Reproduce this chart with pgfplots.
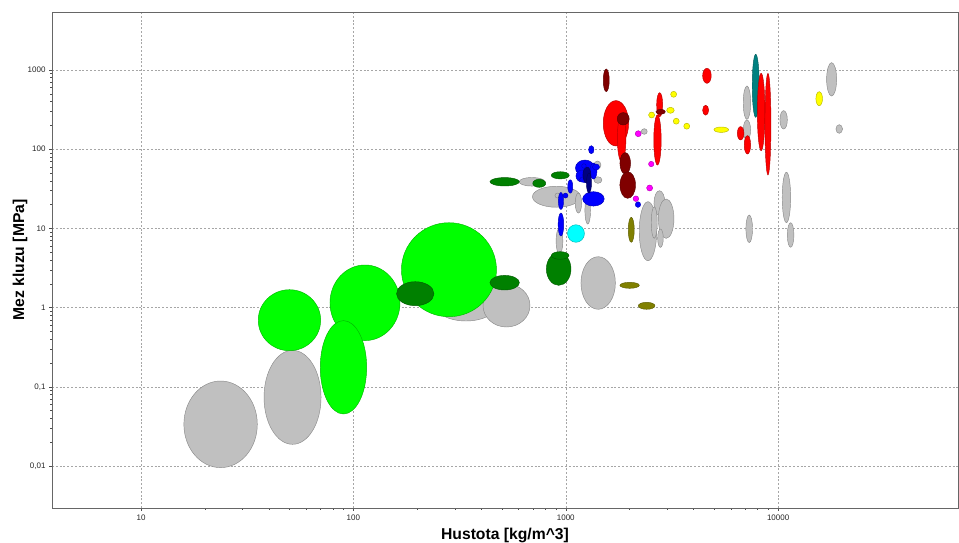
\documentclass[border=0pt]{standalone}
\usepackage{fontspec}
\setmainfont{Liberation Sans}
\usepackage{pgfplots}
\pgfplotsset{compat=1.18}

% material family colours
\definecolor{matgrey}{HTML}{C0C0C0}
\definecolor{matlime}{HTML}{00FF00}
\definecolor{matdkgreen}{HTML}{008000}
\definecolor{matblue}{HTML}{0000FF}
\definecolor{matnavy}{HTML}{000080}
\definecolor{matcyan}{HTML}{00FFFF}
\definecolor{matred}{HTML}{FF0000}
\definecolor{matmaroon}{HTML}{800000}
\definecolor{matmagenta}{HTML}{FF00FF}
\definecolor{matyellow}{HTML}{FFFF00}
\definecolor{matolive}{HTML}{808000}
\definecolor{matteal}{HTML}{008080}

% length of one decade on each axis (axis size / number of decades)
\def\decx{212.4pt}
\def\decy{79.2pt}

% property-range bubble: half-widths \rx, \ry are given in decades
\pgfdeclareplotmark{ashby}{%
  \pgfpathellipse{\pgfpointorigin}{\pgfpoint{\rx*\decx}{0pt}}{\pgfpoint{0pt}{\ry*\decy}}%
  \pgfusepathqfillstroke}

% \bubble{colour}{density}{yield strength}{half-width}{half-height}
\newcommand\bubble[5]{%
  \addplot[only marks, mark=ashby,
    mark options={fill=#1, draw=#1!72!black, line width=0.45pt,
      /utils/exec={\def\rx{#4}\def\ry{#5}}}]
    coordinates {(#2,#3)};}

\begin{document}
\begin{tikzpicture}
\useasboundingbox (-52pt,-35pt) rectangle (907pt,508pt);
\begin{axis}[
  at={(0pt,0pt)}, anchor=south west,
  scale only axis, width=906pt, height=496pt,
  xmode=log, ymode=log,
  xmin=3.81, xmax=70300, ymin=0.00295, ymax=5400,
  xtick={10,100,1000,10000}, xticklabels={10,100,1000,10000},
  ytick={0.01,0.1,1,10,100,1000},
  yticklabels={{0,01},{0,1},1,10,100,1000},
  tick pos=left, tick align=outside,
  major tick length=3pt, minor tick length=1.6pt,
  every tick/.style={black!70},
  grid=major,
  major grid style={gray!70, line width=0.4pt, dash pattern=on 2pt off 1.8pt},
  axis line style={black!60, line width=0.8pt},
  /pgf/number format/assume math mode=true,
  ticklabel style={font=\fontsize{8}{9}\selectfont, text=black!85},
  xlabel={Hustota [kg/m\textasciicircum 3]},
  ylabel={Mez kluzu [MPa]},
  label style={font=\fontsize{15.7}{18}\selectfont\bfseries},
  xlabel style={at={(axis description cs:0.5,-0.0544)}, anchor=center},
  ylabel style={at={(axis description cs:-0.0353,0.5)}, anchor=center, rotate=0},
]
% grey families
\bubble{matgrey}{23.7}{0.0336}{0.1728}{0.5467}
\bubble{matgrey}{51.7}{0.0737}{0.1342}{0.5934}
\bubble{matgrey}{339}{1.177}{0.1554}{0.2400}
\bubble{matgrey}{526}{1.063}{0.1106}{0.2715}
\bubble{matgrey}{693}{38.8}{0.0603}{0.0543}
\bubble{matgrey}{904}{25.1}{0.1130}{0.1326}
\bubble{matgrey}{914}{26.0}{0.0118}{0.0316}
\bubble{matgrey}{1147}{20.9}{0.0151}{0.1263}
\bubble{matgrey}{934}{6.93}{0.0160}{0.1640}
\bubble{matgrey}{1269}{16.9}{0.0132}{0.1730}
\bubble{matgrey}{1410}{63.2}{0.0165}{0.0505}
\bubble{matgrey}{1418}{40.8}{0.0188}{0.0417}
\bubble{matgrey}{1421}{2.045}{0.0810}{0.3320}
\bubble{matgrey}{2342}{167.3}{0.0141}{0.0354}
\bubble{matgrey}{2438}{9.22}{0.0410}{0.3725}
\bubble{matgrey}{2762}{20.8}{0.0259}{0.1580}
\bubble{matgrey}{2970}{13.26}{0.0367}{0.2487}
\bubble{matgrey}{2610}{11.87}{0.0141}{0.1995}
\bubble{matgrey}{2792}{7.52}{0.0132}{0.1160}
\bubble{matgrey}{7131}{386.5}{0.0174}{0.2110}
\bubble{matgrey}{7131}{174.8}{0.0174}{0.1263}
\bubble{matgrey}{10615}{235}{0.0174}{0.1160}
\bubble{matgrey}{10940}{24.6}{0.0198}{0.3180}
\bubble{matgrey}{11450}{8.26}{0.0155}{0.1550}
\bubble{matgrey}{7310}{9.88}{0.0155}{0.1740}
\bubble{matgrey}{17860}{763}{0.0235}{0.2110}
\bubble{matgrey}{19400}{179.9}{0.0155}{0.0543}
% foams
\bubble{matlime}{50.0}{0.6934}{0.1469}{0.3851}
\bubble{matlime}{113.4}{1.150}{0.1648}{0.4773}
\bubble{matlime}{89.8}{0.1763}{0.1092}{0.5896}
\bubble{matlime}{281.9}{3.009}{0.2236}{0.5934}
% natural materials
\bubble{matdkgreen}{195.6}{1.498}{0.0880}{0.1515}
\bubble{matdkgreen}{515.6}{2.063}{0.0692}{0.0922}
\bubble{matdkgreen}{515.6}{38.8}{0.0692}{0.0530}
\bubble{matdkgreen}{750.3}{37.1}{0.0306}{0.0505}
\bubble{matdkgreen}{942.2}{46.8}{0.0424}{0.0455}
\bubble{matdkgreen}{926}{3.07}{0.0579}{0.2058}
\bubble{matdkgreen}{941}{4.55}{0.0414}{0.0480}
% polymers
\bubble{matblue}{1319}{98.6}{0.0127}{0.0505}
\bubble{matblue}{1231}{57.9}{0.0447}{0.1010}
\bubble{matblue}{1192}{45.9}{0.0282}{0.0758}
\bubble{matblue}{1350}{53.0}{0.0165}{0.1010}
\bubble{matblue}{1388}{59.6}{0.0165}{0.0380}
\bubble{matblue}{1225}{41.4}{0.0235}{0.0380}
\bubble{matblue}{1350}{23.6}{0.0508}{0.0909}
\bubble{matblue}{1050}{33.8}{0.0118}{0.0846}
\bubble{matblue}{949}{22.2}{0.0122}{0.1073}
\bubble{matblue}{997}{26.0}{0.0118}{0.0316}
\bubble{matblue}{949}{11.2}{0.0132}{0.1452}
\bubble{matblue}{2188}{20.0}{0.0127}{0.0354}
\bubble{matnavy}{1258}{47.2}{0.0188}{0.1010}
\bubble{matnavy}{1286}{37.4}{0.0118}{0.1263}
\bubble{matblue}{1218}{61.4}{0.0108}{0.0290}
% elastomer
\bubble{matcyan}{1117}{8.62}{0.0400}{0.1110}
% olive families
\bubble{matolive}{2034}{9.60}{0.0141}{0.1578}
\bubble{matolive}{1999}{1.912}{0.0457}{0.0379}
\bubble{matolive}{2404}{1.054}{0.0391}{0.0442}
% magenta families
\bubble{matmagenta}{2140}{23.7}{0.0132}{0.0354}
\bubble{matmagenta}{2483}{32.4}{0.0141}{0.0379}
\bubble{matmagenta}{2526}{65.0}{0.0127}{0.0341}
\bubble{matmagenta}{2194}{156.9}{0.0141}{0.0379}
% yellow families
\bubble{matyellow}{3221}{493.5}{0.0141}{0.0379}
\bubble{matyellow}{2537}{270.3}{0.0141}{0.0379}
\bubble{matyellow}{3112}{309.9}{0.0179}{0.0379}
\bubble{matyellow}{3313}{225.7}{0.0141}{0.0379}
\bubble{matyellow}{3713}{195.2}{0.0141}{0.0379}
\bubble{matyellow}{5398}{176.3}{0.0344}{0.0341}
\bubble{matyellow}{15610}{434.1}{0.0155}{0.0884}
% teal
\bubble{matteal}{7845}{631.9}{0.0165}{0.3977}
% metals
\bubble{matred}{1723}{212.3}{0.0598}{0.2866}
\bubble{matred}{1833}{137.3}{0.0202}{0.2942}
\bubble{matred}{2768}{364.7}{0.0141}{0.1515}
\bubble{matred}{2703}{130.7}{0.0174}{0.3157}
\bubble{matred}{4622}{845}{0.0202}{0.0947}
\bubble{matred}{4557}{310.8}{0.0141}{0.0631}
\bubble{matred}{6659}{158.8}{0.0155}{0.0846}
\bubble{matred}{7169}{113.6}{0.0151}{0.1160}
\bubble{matred}{8318}{294.9}{0.0179}{0.4886}
\bubble{matred}{8954}{206.9}{0.0141}{0.6414}
% composites
\bubble{matmaroon}{1551}{741}{0.0141}{0.1427}
\bubble{matmaroon}{1865}{242}{0.0282}{0.0783}
\bubble{matmaroon}{1906}{66.4}{0.0250}{0.1351}
\bubble{matmaroon}{1958}{35.3}{0.0367}{0.1680}
\bubble{matmaroon}{2798}{296.6}{0.0221}{0.0316}
\end{axis}
\end{tikzpicture}
\end{document}
